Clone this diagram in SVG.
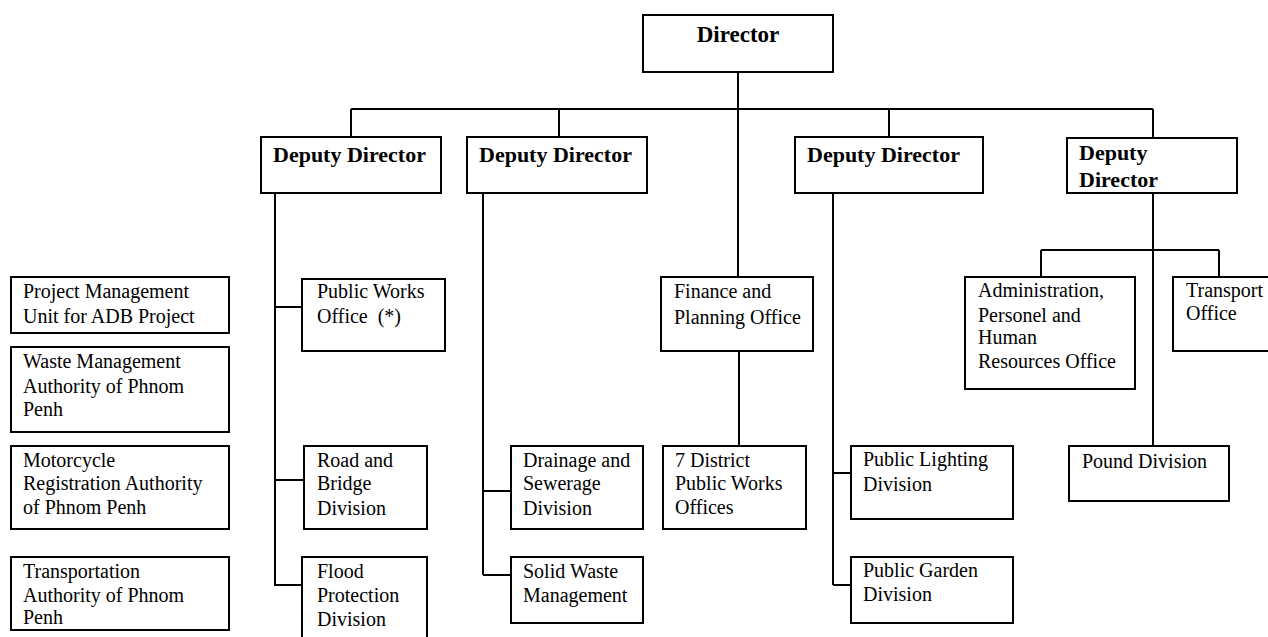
<svg xmlns="http://www.w3.org/2000/svg" width="1268" height="637" viewBox="0 0 1268 637">
<style>
rect{fill:#fff;stroke:#000;stroke-width:2}
.c path{fill:none;stroke:#000;stroke-width:2}
text{font-family:"Liberation Serif","Times New Roman",serif;fill:#000;font-size:20px}
.b{font-weight:bold;font-size:22px}
.d{font-weight:bold;font-size:23px}
</style>
<rect x="0" y="0" width="1268" height="637" style="fill:#fff;stroke:none"/>
<g class="c" id="connectors">
<path d="M738 72V277M739 351V446"/>
<path d="M351 109H1153M351 109V137M559 109V137M889 109V137M1153 109V138"/>
<path d="M275 193V586M275 307H302M275 480H304M275 585H302"/>
<path d="M483 193V575M483 491H511M483 575H511"/>
<path d="M833 193V585M833 473H851M833 585H851"/>
<path d="M1153 193V446M1041 250H1219M1041 250V277M1219 250V277"/>
</g>
<g id="director"><rect x="643" y="15" width="190" height="57"/><text class="d" x="738" y="42" text-anchor="middle">Director</text></g>
<g id="deputy1"><rect x="261" y="137" width="180" height="56"/><text class="b" x="273" y="162">Deputy Director</text></g>
<g id="deputy2"><rect x="467" y="137" width="180" height="56"/><text class="b" x="479" y="162">Deputy Director</text></g>
<g id="deputy3"><rect x="795" y="137" width="188" height="56"/><text class="b" x="807" y="162">Deputy Director</text></g>
<g id="deputy4"><rect x="1067" y="138" width="170" height="55"/><text class="b" x="1079" y="160">Deputy</text><text class="b" x="1079" y="187">Director</text></g>
<g id="pmu"><rect x="11" y="277" width="218" height="56"/><text x="23" y="298">Project Management</text><text x="23" y="323">Unit for ADB Project</text></g>
<g id="wma"><rect x="11" y="347" width="218" height="85"/><text x="23" y="368">Waste Management</text><text x="23" y="393">Authority of Phnom</text><text x="23" y="416">Penh</text></g>
<g id="mra"><rect x="11" y="446" width="218" height="83"/><text x="23" y="467">Motorcycle</text><text x="23" y="490">Registration Authority</text><text x="23" y="514">of Phnom Penh</text></g>
<g id="ta"><rect x="11" y="557" width="218" height="73"/><text x="23" y="578">Transportation</text><text x="23" y="602">Authority of Phnom</text><text x="23" y="624">Penh</text></g>
<g id="pwo"><rect x="302" y="279" width="143" height="72"/><text x="317" y="298">Public Works</text><text x="317" y="323" xml:space="preserve">Office  (*)</text></g>
<g id="road"><rect x="304" y="446" width="123" height="83"/><text x="317" y="467">Road and</text><text x="317" y="490">Bridge</text><text x="317" y="515">Division</text></g>
<g id="flood"><rect x="302" y="557" width="125" height="90"/><text x="317" y="578">Flood</text><text x="317" y="602">Protection</text><text x="317" y="626">Division</text></g>
<g id="drainage"><rect x="511" y="446" width="132" height="83"/><text x="523" y="467">Drainage and</text><text x="523" y="490">Sewerage</text><text x="523" y="515">Division</text></g>
<g id="solid"><rect x="511" y="557" width="132" height="66"/><text x="523" y="578">Solid Waste</text><text x="523" y="602">Management</text></g>
<g id="finance"><rect x="661" y="277" width="152" height="74"/><text x="674" y="298">Finance and</text><text x="674" y="324">Planning Office</text></g>
<g id="district"><rect x="663" y="446" width="143" height="83"/><text x="675" y="467">7 District</text><text x="675" y="490">Public Works</text><text x="675" y="514">Offices</text></g>
<g id="lighting"><rect x="851" y="446" width="162" height="73"/><text x="863" y="466">Public Lighting</text><text x="863" y="491">Division</text></g>
<g id="garden"><rect x="851" y="557" width="162" height="66"/><text x="863" y="577">Public Garden</text><text x="863" y="601">Division</text></g>
<g id="admin"><rect x="965" y="277" width="170" height="112"/><text x="978" y="297">Administration,</text><text x="978" y="322">Personel and</text><text x="978" y="344">Human</text><text x="978" y="368">Resources Office</text></g>
<g id="transport"><rect x="1173" y="277" width="100" height="74"/><text x="1186" y="297">Transport</text><text x="1186" y="320">Office</text></g>
<g id="pound"><rect x="1069" y="446" width="160" height="55"/><text x="1082" y="468">Pound Division</text></g>
</svg>
